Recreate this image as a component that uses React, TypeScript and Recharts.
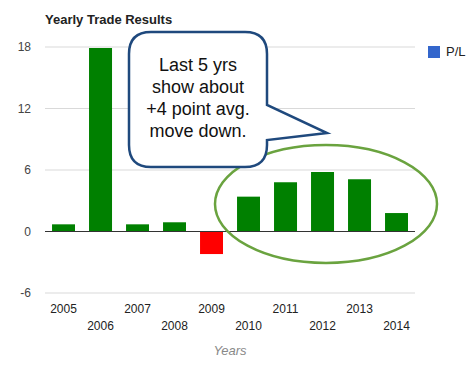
import { BarChart, Bar, XAxis, YAxis, CartesianGrid, ReferenceLine, Legend, Cell } from 'recharts';

const years = ['2005', '2006', '2007', '2008', '2009', '2010', '2011', '2012', '2013', '2014'];
const plValues = [0.7, 17.9, 0.7, 0.9, -2.2, 3.4, 4.8, 5.8, 5.1, 1.8];
const yTicks = [-6, 0, 6, 12, 18];
const calloutLines = ['Last 5 yrs', 'show about', '+4 point avg.', 'move down.'];

const data = years.map((year, i) => ({ year, pl: plValues[i] }));

const FONT = "Arial, 'Liberation Sans', sans-serif";

// two staggered rows of year labels
const YearTick = (props: any) => {
  const { x, y, payload, index } = props;
  const dy = index % 2 === 0 ? 12 : 29;
  return (
    <text x={x} y={y + dy} textAnchor="middle" fontSize={12} fill="#222" fontFamily={FONT}>
      {payload.value}
    </text>
  );
};

const LegendBox = () => (
  <div style={{ display: 'flex', alignItems: 'center', fontFamily: FONT, fontSize: 13, color: '#222' }}>
    <span style={{ display: 'inline-block', width: 12, height: 12, background: '#3366cc', marginRight: 6 }} />
    P/L
  </div>
);

export default function App() {
  return (
    <div style={{ position: 'absolute', left: 0, top: 0, width: 472, height: 366, background: '#fff' }}>
      <BarChart width={472} height={366} data={data} margin={{ top: 47, right: 57, bottom: 0, left: 0 }} barCategoryGap="19%">
        <text x={45} y={24} fontSize={13} fontWeight="bold" fill="#222" fontFamily={FONT}>
          Yearly Trade Results
        </text>
        <CartesianGrid vertical={false} stroke="#d9d9d9" />
        <XAxis dataKey="year" height={73} axisLine={false} tickLine={false} tick={<YearTick />} interval={0} />
        <YAxis
          width={45}
          domain={[-6, 18]}
          ticks={yTicks}
          axisLine={false}
          tickLine={false}
          tickMargin={8}
          tick={{ fontSize: 12, fill: '#444', fontFamily: FONT }}
        />
        <ReferenceLine y={0} stroke="#333" strokeWidth={1} />
        <Legend
          layout="vertical"
          align="center"
          verticalAlign="middle"
          wrapperStyle={{ top: 44, left: 428, width: 'auto' }}
          content={<LegendBox />}
        />
        <Bar dataKey="pl" isAnimationActive={false}>
          {data.map((d) => (
            <Cell key={d.year} fill={d.pl < 0 ? '#ff0000' : '#008000'} />
          ))}
        </Bar>
        <text x={230} y={355} textAnchor="middle" fontSize={13} fontStyle="italic" fill="#888" fontFamily={FONT}>
          Years
        </text>
      </BarChart>
      <svg width={472} height={366} style={{ position: 'absolute', left: 0, top: 0, pointerEvents: 'none' }}>
        <ellipse cx={326} cy={204} rx={111} ry={59} fill="none" stroke="#6aa33f" strokeWidth={2.5} />
        <path
          d="M 151 32 H 245 Q 267 32 267 54 V 105 L 327 133 L 267 140 V 145 Q 267 167 245 167 H 151 Q 129 167 129 145 V 54 Q 129 32 151 32 Z"
          fill="#fff"
          stroke="#1f497d"
          strokeWidth={2.5}
        />
        {calloutLines.map((line, i) => (
          <text key={line} x={198} y={71 + i * 22} textAnchor="middle" fontSize={18} fill="#111" fontFamily={FONT}>
            {line}
          </text>
        ))}
      </svg>
    </div>
  );
}
